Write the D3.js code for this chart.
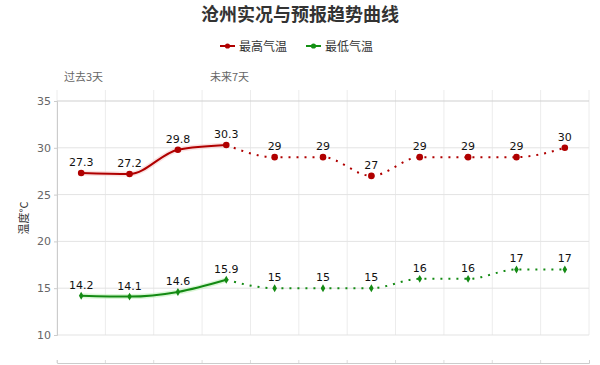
<!DOCTYPE html>
<html>
<head>
<meta charset="utf-8">
<script src="https://cdn.jsdelivr.net/npm/d3@7"></script>
<style>
  body { margin: 0; background: #fff; }
  svg { font-family: "Noto Sans CJK SC", "DejaVu Sans", sans-serif; }
</style>
</head>
<body>
<div id="chart"></div>
<script>
// data
const days = ['d-3', 'd-2', 'd-1', 'd0', 'd1', 'd2', 'd3', 'd4', 'd5', 'd6', 'd7'];
const maxTemp = [27.3, 27.2, 29.8, 30.3, 29, 29, 27, 29, 29, 29, 30];
const minTemp = [14.2, 14.1, 14.6, 15.9, 15, 15, 15, 16, 16, 17, 17];
const yTicks = [10, 15, 20, 25, 30, 35];
const pastCount = 4; // solid part ends at index 3

const chartW = 600;
const chartH = 365;
const plotL = 57, plotR = 589, plotT = 101, plotB = 335;

const svg = d3.select('#chart').append('svg')
  .attr('width', chartW)
  .attr('height', chartH);

const x = d3.scaleBand().domain(days).range([plotL, plotR]);
const y = d3.scaleLinear().domain([10, 35]).range([plotB, plotT]);

// title
svg.append('text')
  .attr('x', 300).attr('y', 21)
  .attr('text-anchor', 'middle')
  .attr('font-size', 18).attr('font-weight', 'bold')
  .attr('fill', '#333')
  .text('沧州实况与预报趋势曲线');

// legend
const legend = [
  { name: '最高气温', color: '#b00000', x: 220 },
  { name: '最低气温', color: '#139013', x: 306 },
];
legend.forEach((l) => {
  const g = svg.append('g').attr('transform', `translate(${l.x},46)`);
  g.append('line').attr('x1', 0).attr('x2', 15).attr('y1', 0).attr('y2', 0)
    .attr('stroke', l.color).attr('stroke-width', 2);
  g.append('circle').attr('cx', 7.5).attr('cy', 0).attr('r', 2.6).attr('fill', l.color);
  g.append('text').attr('x', 19).attr('y', 4.5)
    .attr('font-size', 12).attr('fill', '#333').text(l.name);
});

// period labels
svg.append('text').attr('x', 64).attr('y', 81).attr('font-size', 11).attr('fill', '#666').text('过去3天');
svg.append('text').attr('x', 210).attr('y', 81).attr('font-size', 11).attr('fill', '#666').text('未来7天');

// grid
const grid = svg.append('g');
const bounds = days.map((d) => x(d)).concat([plotR]);
grid.selectAll('line.v').data(bounds).join('line')
  .attr('x1', (d) => d).attr('x2', (d) => d)
  .attr('y1', 90).attr('y2', plotB)
  .attr('stroke', '#ececec');
grid.selectAll('line.h').data(yTicks).join('line')
  .attr('x1', plotL).attr('x2', plotR)
  .attr('y1', (d) => y(d)).attr('y2', (d) => y(d))
  .attr('stroke', (d) => (d === 35 ? '#cfcfcf' : '#e3e3e3'));

// y axis
const yAxis = svg.append('g').attr('transform', `translate(${plotL},0)`)
  .call(d3.axisLeft(y).tickValues(yTicks).tickSize(3).tickPadding(3));
yAxis.select('.domain').attr('stroke', '#ccc');
yAxis.selectAll('.tick line').attr('stroke', '#ccc');
yAxis.selectAll('.tick text').attr('fill', '#666').attr('font-size', 11)
  .attr('font-family', 'DejaVu Sans, sans-serif');

svg.append('text')
  .attr('transform', `translate(28,218) rotate(-90)`)
  .attr('text-anchor', 'middle')
  .attr('font-size', 11).attr('fill', '#333')
  .text('温度°C');

// bottom x axis
const xAxis = svg.append('g').attr('transform', `translate(0,363)`)
  .call(d3.axisTop(x).tickSize(3).tickFormat(''));
xAxis.select('.domain').attr('stroke', '#ccc');
xAxis.selectAll('.tick line').attr('stroke', '#ddd')
  .attr('transform', `translate(${-x.bandwidth() / 2},0)`);

// series
const line = d3.line()
  .x((d) => x(d.day) + x.bandwidth() / 2)
  .y((d) => y(d.v))
  .curve(d3.curveMonotoneX);

function drawSeries(values, color, glow, symbol, symSize) {
  const pts = values.map((v, i) => ({ day: days[i], v }));
  const past = pts.slice(0, pastCount);
  const future = pts.slice(pastCount - 1);
  const g = svg.append('g');
  g.append('path').datum(past).attr('d', line)
    .attr('fill', 'none').attr('stroke', glow).attr('stroke-width', 5).attr('opacity', 0.5);
  g.append('path').datum(past).attr('d', line)
    .attr('fill', 'none').attr('stroke', color).attr('stroke-width', 2);
  g.append('path').datum(future).attr('d', line)
    .attr('fill', 'none').attr('stroke', color).attr('stroke-width', 2)
    .attr('stroke-dasharray', '2,6');
  g.selectAll('path.sym').data(pts).join('path')
    .attr('class', 'sym')
    .attr('transform', (d) => `translate(${x(d.day) + x.bandwidth() / 2},${y(d.v)})`)
    .attr('d', d3.symbol().type(symbol).size(symSize))
    .attr('fill', color);
  g.selectAll('text').data(pts).join('text')
    .attr('x', (d) => x(d.day) + x.bandwidth() / 2)
    .attr('y', (d) => y(d.v) - 7)
    .attr('text-anchor', 'middle')
    .attr('font-size', 11)
    .attr('font-family', 'DejaVu Sans, sans-serif')
    .attr('fill', '#111')
    .text((d) => d.v);
}

drawSeries(maxTemp, '#b00000', '#f6c6c6', d3.symbolCircle, 34);
drawSeries(minTemp, '#138a13', '#b8f0b0', d3.symbolDiamond, 18);
</script>
</body>
</html>
